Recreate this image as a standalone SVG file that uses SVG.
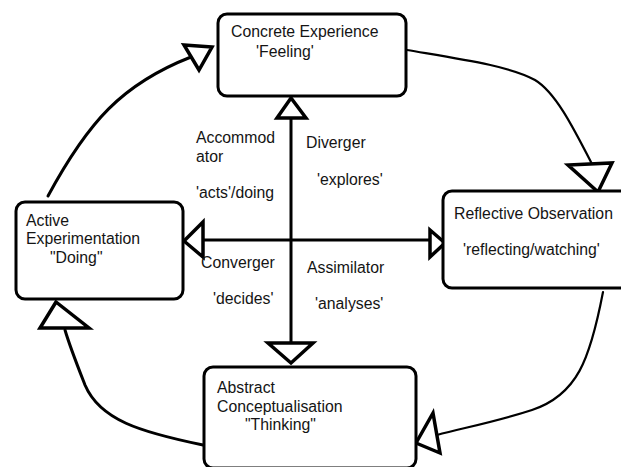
<svg xmlns="http://www.w3.org/2000/svg" width="621" height="467" viewBox="0 0 621 467">
  <style>
    .box { fill: #fff; stroke: #000; stroke-width: 3; }
    .lbl { font-family: "Liberation Sans", Arial, sans-serif; font-size: 15.8px; fill: #141414; }
    .edge { fill: none; stroke: #000; stroke-linecap: round; }
    .head { fill: #fff; stroke: #000; stroke-width: 3.5; stroke-linejoin: miter; }
  </style>
  <rect x="0" y="0" width="621" height="467" fill="#fff"/>

  <!-- connectors: cycle curves and the two axes -->
  <g id="connectors">
    <path class="edge" stroke-width="3" d="M48,196 C88,122 122,84 191,57"/>
    <path class="edge" stroke-width="2.2" d="M407,50 C460,59 510,66 535,80 C555,92 572,125 592,164"/>
    <path class="edge" stroke-width="2.2" d="M603,292 C590,360 577,395 532,410 C492,423 462,428 437,435"/>
    <path class="edge" stroke-width="3" d="M203,445 C140,432 100,420 85,385 C76,362 70,347 65,330"/>
    <line class="edge" stroke-width="3" x1="291" y1="118" x2="291" y2="343"/>
    <line class="edge" stroke-width="3" x1="203" y1="240" x2="430" y2="240"/>

    <polygon class="head" points="212,47 184,45 199,70"/>
    <polygon class="head" points="598,192 568,165 612,163"/>
    <polygon class="head" points="416,443 433,413 440,453"/>
    <polygon class="head" points="56,302 40,328 89,328"/>
    <polygon class="head" points="291,98 277,118 306,118"/>
    <polygon class="head" points="291,363 268,343 313,343"/>
    <polygon class="head" points="184,241 203,222 203,257"/>
    <polygon class="head" points="445,243 430,230 430,257"/>
  </g>

  <g id="concrete-experience">
    <rect class="box" x="218" y="14" width="188" height="82" rx="9"/>
    <text class="lbl" x="231" y="37">Concrete Experience</text>
    <text class="lbl" x="256" y="57">'Feeling'</text>
  </g>

  <g id="reflective-observation">
    <rect class="box" x="443" y="191" width="200" height="97" rx="9"/>
    <text class="lbl" x="454" y="219">Reflective Observation</text>
    <text class="lbl" x="463" y="255">'reflecting/watching'</text>
  </g>

  <g id="abstract-conceptualisation">
    <rect class="box" x="204" y="367" width="212" height="101" rx="9"/>
    <text class="lbl" x="217" y="393">Abstract</text>
    <text class="lbl" x="217" y="412">Conceptualisation</text>
    <text class="lbl" x="245" y="430">"Thinking"</text>
  </g>

  <g id="active-experimentation">
    <rect class="box" x="16" y="202" width="167" height="97" rx="9"/>
    <text class="lbl" x="26" y="226">Active</text>
    <text class="lbl" x="26" y="244">Experimentation</text>
    <text class="lbl" x="50" y="263">"Doing"</text>
  </g>

  <!-- learning-style quadrant labels -->
  <g id="accommodator">
    <text class="lbl" x="196" y="143">Accommod</text>
    <text class="lbl" x="196" y="162">ator</text>
    <text class="lbl" x="196" y="198">'acts'/doing</text>
  </g>
  <g id="diverger">
    <text class="lbl" x="306" y="148">Diverger</text>
    <text class="lbl" x="317" y="185">'explores'</text>
  </g>
  <g id="converger">
    <text class="lbl" x="201" y="268">Converger</text>
    <text class="lbl" x="213" y="304">'decides'</text>
  </g>
  <g id="assimilator">
    <text class="lbl" x="307" y="273">Assimilator</text>
    <text class="lbl" x="315" y="309">'analyses'</text>
  </g>
</svg>
